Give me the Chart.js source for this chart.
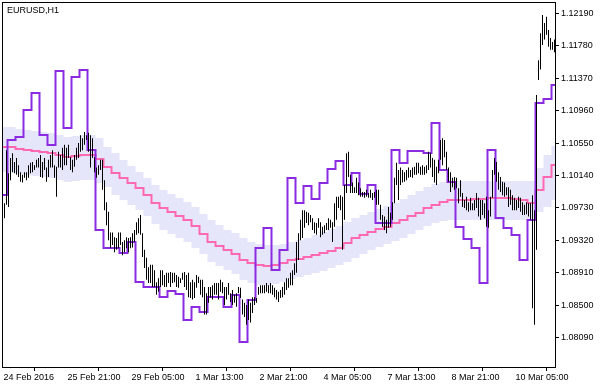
<!DOCTYPE html>
<html>
<head>
<meta charset="utf-8">
<script src="https://cdn.jsdelivr.net/npm/chart.js@4.4.0/dist/chart.umd.min.js"></script>
<style>
  body { margin: 0; background: #fff; }
  canvas { display: block; }
</style>
</head>
<body>
<canvas id="chart" width="607" height="387"></canvas>
<script>
const chartTitle = "EURUSD,H1";

// bottom labels and the H1 bar they sit on
const dateLabels = ["24 Feb 2016", "25 Feb 21:00", "29 Feb 05:00", "1 Mar 13:00", "2 Mar 21:00", "4 Mar 05:00", "7 Mar 13:00", "8 Mar 21:00", "10 Mar 05:00"];
const labelBars = [0, 32, 64, 96, 128, 160, 192, 224, 256];

// price scale on the right
const priceTicks = [1.08090, 1.08500, 1.08910, 1.09320, 1.09730, 1.10140, 1.10550, 1.10960, 1.11370, 1.11780, 1.12190];
const priceMin = 1.077167;
const priceMax = 1.123229;

// H1 bars (high / low), bar 1 .. 276
const highs = [
  1.0979, 1.1046, 1.1017, 1.1036, 1.1042, 1.1031, 1.1036, 1.1027, 1.1018, 1.1015, 1.1018, 1.1018,
  1.1027, 1.1030, 1.1031, 1.1027, 1.1034, 1.1036, 1.1040, 1.1031, 1.1036, 1.1024, 1.1034, 1.1040,
  1.1046, 1.1027, 1.1025, 1.1044, 1.1040, 1.1049, 1.1053, 1.1049, 1.1053, 1.1037, 1.1034, 1.1040,
  1.1049, 1.1055, 1.1065, 1.1061, 1.1069, 1.1065, 1.1068, 1.1065, 1.1061, 1.1037, 1.1024, 1.1027,
  1.1034, 1.1034, 1.1008, 1.0980, 1.0968, 1.0942, 1.0942, 1.0936, 1.0935, 1.0942, 1.0942, 1.0930,
  1.0932, 1.0936, 1.0935, 1.0936, 1.0941, 1.0945, 1.0955, 1.0960, 1.0964, 1.0941, 1.0920, 1.0910,
  1.0898, 1.0901, 1.0901, 1.0894, 1.0879, 1.0884, 1.0894, 1.0894, 1.0888, 1.0891, 1.0891, 1.0892,
  1.0891, 1.0891, 1.0888, 1.0886, 1.0884, 1.0891, 1.0892, 1.0888, 1.0891, 1.0879, 1.0882, 1.0879,
  1.0888, 1.0886, 1.0882, 1.0882, 1.0873, 1.0865, 1.0873, 1.0873, 1.0875, 1.0878, 1.0878, 1.0878,
  1.0882, 1.0879, 1.0873, 1.0873, 1.0878, 1.0865, 1.0869, 1.0863, 1.0865, 1.0873, 1.0872, 1.0857,
  1.0853, 1.0850, 1.0857, 1.0853, 1.0860, 1.0860, 1.0859, 1.0873, 1.0875, 1.0875, 1.0875, 1.0878,
  1.0875, 1.0878, 1.0875, 1.0872, 1.0869, 1.0867, 1.0869, 1.0873, 1.0879, 1.0884, 1.0884, 1.0891,
  1.0894, 1.0903, 1.0930, 1.0941, 1.0958, 1.0970, 1.0970, 1.0968, 1.0967, 1.0964, 1.0960, 1.0955,
  1.0954, 1.0960, 1.0955, 1.0949, 1.0951, 1.0954, 1.0960, 1.0958, 1.0955, 1.0979, 1.0987, 1.0987,
  1.0989, 1.0987, 1.1002, 1.1042, 1.1044, 1.1015, 1.1005, 1.0999, 1.1011, 1.1005, 1.0998, 1.0993,
  1.0993, 1.0996, 1.0992, 1.0996, 1.0992, 1.0993, 1.0996, 1.0996, 1.0977, 1.0964, 1.0962, 1.0958,
  1.0974, 1.0967, 1.0980, 1.1011, 1.1030, 1.1021, 1.1024, 1.1021, 1.1018, 1.1021, 1.1024, 1.1021,
  1.1024, 1.1025, 1.1030, 1.1030, 1.1025, 1.1027, 1.1025, 1.1027, 1.1044, 1.1042, 1.1036, 1.1034,
  1.1025, 1.1034, 1.1059, 1.1061, 1.1059, 1.1044, 1.1024, 1.1018, 1.1011, 1.1012, 1.1011, 1.0998,
  1.1008, 1.0992, 1.0983, 1.0987, 1.0980, 1.0986, 1.0979, 1.0983, 1.0992, 1.0986, 1.0983, 1.0983,
  1.0979, 1.0987, 1.0970, 1.0987, 1.1021, 1.1036, 1.1031, 1.1018, 1.1012, 1.1006, 1.1005, 1.0999,
  1.0999, 1.0996, 1.0989, 1.0986, 1.0983, 1.0987, 1.0986, 1.0980, 1.0977, 1.0980, 1.0979, 1.0979,
  1.0989, 1.0970, 1.1116, 1.1160, 1.1194, 1.1217, 1.1207, 1.1215, 1.1198, 1.1188, 1.1183, 1.1186
];
const lows = [
  1.0960, 1.0977, 1.0974, 1.1008, 1.1018, 1.1017, 1.1015, 1.1012, 1.1006, 1.1005, 1.1011, 1.1008,
  1.1011, 1.1017, 1.1018, 1.1021, 1.1024, 1.1024, 1.1012, 1.1011, 1.1021, 1.1006, 1.1012, 1.1024,
  1.1024, 1.1011, 1.0987, 1.1024, 1.1024, 1.1021, 1.1027, 1.1027, 1.1036, 1.1021, 1.1018, 1.1025,
  1.1034, 1.1036, 1.1044, 1.1046, 1.1053, 1.1059, 1.1044, 1.1024, 1.1036, 1.1018, 1.1011, 1.1015,
  1.1021, 1.0996, 1.0970, 1.0951, 1.0932, 1.0922, 1.0926, 1.0917, 1.0920, 1.0922, 1.0926, 1.0913,
  1.0917, 1.0922, 1.0917, 1.0922, 1.0923, 1.0930, 1.0939, 1.0941, 1.0939, 1.0911, 1.0897, 1.0882,
  1.0878, 1.0878, 1.0873, 1.0873, 1.0863, 1.0867, 1.0873, 1.0875, 1.0873, 1.0873, 1.0878, 1.0873,
  1.0878, 1.0879, 1.0873, 1.0872, 1.0878, 1.0882, 1.0873, 1.0869, 1.0860, 1.0859, 1.0857, 1.0859,
  1.0872, 1.0878, 1.0863, 1.0860, 1.0838, 1.0838, 1.0853, 1.0860, 1.0857, 1.0863, 1.0863, 1.0857,
  1.0867, 1.0865, 1.0850, 1.0857, 1.0863, 1.0854, 1.0850, 1.0853, 1.0848, 1.0865, 1.0859, 1.0838,
  1.0835, 1.0825, 1.0831, 1.0828, 1.0840, 1.0850, 1.0853, 1.0863, 1.0865, 1.0865, 1.0865, 1.0867,
  1.0865, 1.0865, 1.0863, 1.0860, 1.0857, 1.0854, 1.0859, 1.0860, 1.0863, 1.0869, 1.0872, 1.0875,
  1.0875, 1.0888, 1.0891, 1.0907, 1.0932, 1.0935, 1.0948, 1.0954, 1.0951, 1.0955, 1.0945, 1.0941,
  1.0939, 1.0948, 1.0936, 1.0939, 1.0941, 1.0945, 1.0945, 1.0948, 1.0930, 1.0949, 1.0958, 1.0973,
  1.0970, 1.0920, 1.0958, 1.0992, 1.1012, 1.0992, 1.0992, 1.0992, 1.0992, 1.0989, 1.0987, 1.0987,
  1.0986, 1.0987, 1.0986, 1.0986, 1.0983, 1.0986, 1.0977, 1.0977, 1.0958, 1.0949, 1.0945, 1.0941,
  1.0948, 1.0949, 1.0958, 1.0979, 1.1002, 1.0983, 1.1002, 1.1005, 1.1006, 1.1008, 1.1011, 1.1012,
  1.1011, 1.1015, 1.1015, 1.1017, 1.1015, 1.1015, 1.1015, 1.1017, 1.1021, 1.1024, 1.1012, 1.1005,
  1.1002, 1.1017, 1.1034, 1.1027, 1.1037, 1.1021, 1.1006, 1.0993, 1.0999, 1.0996, 1.0998, 1.0979,
  1.0987, 1.0974, 1.0973, 1.0970, 1.0968, 1.0970, 1.0970, 1.0970, 1.0973, 1.0962, 1.0958, 1.0964,
  1.0960, 1.0949, 1.0948, 1.0962, 1.0986, 1.1015, 1.1006, 1.0996, 1.0993, 1.0989, 1.0987, 1.0989,
  1.0974, 1.0977, 1.0970, 1.0970, 1.0970, 1.0973, 1.0968, 1.0964, 1.0964, 1.0965, 1.0962, 1.0958,
  1.0846, 1.0825, 1.0920, 1.1135, 1.1148, 1.1179, 1.1186, 1.1192, 1.1177, 1.1173, 1.1173, 1.1170
];

// H4 indicator values, one per H4 candle (4 H1 bars each)
const maH4 = [
  1.10501, 1.10501, 1.10475, 1.10463, 1.10450, 1.10437, 1.10425, 1.10399, 1.10374, 1.10387,
  1.10399, 1.10399, 1.10349, 1.10248, 1.10172, 1.10108, 1.10045, 1.09982, 1.09893, 1.09792,
  1.09729, 1.09678, 1.09628, 1.09577, 1.09501, 1.09400, 1.09299, 1.09248, 1.09197, 1.09147,
  1.09071, 1.09033, 1.09007, 1.08995, 1.09007, 1.09033, 1.09071, 1.09083, 1.09109, 1.09134,
  1.09159, 1.09185, 1.09223, 1.09286, 1.09349, 1.09387, 1.09425, 1.09463, 1.09488, 1.09539,
  1.09577, 1.09628, 1.09665, 1.09729, 1.09767, 1.09805, 1.09830, 1.09830, 1.09830, 1.09843,
  1.09843, 1.09855, 1.09855, 1.09855, 1.09843, 1.09830, 1.09792, 1.09957, 1.10121, 1.10273
];
const bandUpper = [
  1.10754, 1.10754, 1.10728, 1.10716, 1.10703, 1.10690, 1.10678, 1.10653, 1.10627, 1.10640,
  1.10653, 1.10653, 1.10615, 1.10501, 1.10425, 1.10336, 1.10260, 1.10184, 1.10108, 1.10020,
  1.09957, 1.09906, 1.09855, 1.09805, 1.09741, 1.09653, 1.09577, 1.09514, 1.09450, 1.09412,
  1.09349, 1.09299, 1.09273, 1.09261, 1.09261, 1.09273, 1.09299, 1.09324, 1.09349, 1.09387,
  1.09425, 1.09463, 1.09501, 1.09552, 1.09602, 1.09640, 1.09678, 1.09716, 1.09754, 1.09792,
  1.09843, 1.09893, 1.09944, 1.09995, 1.10032, 1.10058, 1.10070, 1.10070, 1.10070, 1.10070,
  1.10070, 1.10070, 1.10070, 1.10070, 1.10070, 1.10070, 1.10070, 1.10235, 1.10399, 1.10513
];
const bandLower = [
  1.10184, 1.10184, 1.10159, 1.10146, 1.10134, 1.10121, 1.10108, 1.10083, 1.10058, 1.10070,
  1.10083, 1.10083, 1.10045, 1.09995, 1.09893, 1.09830, 1.09767, 1.09704, 1.09628, 1.09526,
  1.09450, 1.09400, 1.09349, 1.09299, 1.09223, 1.09147, 1.09046, 1.08995, 1.08944, 1.08894,
  1.08818, 1.08780, 1.08754, 1.08742, 1.08767, 1.08792, 1.08830, 1.08856, 1.08881, 1.08906,
  1.08932, 1.08970, 1.09007, 1.09046, 1.09096, 1.09147, 1.09197, 1.09235, 1.09273, 1.09311,
  1.09349, 1.09400, 1.09450, 1.09501, 1.09539, 1.09564, 1.09577, 1.09577, 1.09577, 1.09577,
  1.09577, 1.09577, 1.09577, 1.09577, 1.09577, 1.09577, 1.09577, 1.09678, 1.09741, 1.09830
];
const levelH4 = [
  1.09893, 1.10589, 1.10627, 1.10969, 1.11184, 1.10653, 1.10526, 1.11462, 1.10741, 1.11386,
  1.11475, 1.10463, 1.09450, 1.09223, 1.09223, 1.09159, 1.09299, 1.08792, 1.08729, 1.08729,
  1.08603, 1.08679, 1.08641, 1.08312, 1.08476, 1.08413, 1.08603, 1.08603, 1.08476, 1.08628,
  1.08033, 1.08565, 1.09223, 1.09476, 1.08944, 1.09197, 1.10108, 1.09792, 1.10007, 1.09843,
  1.10045, 1.10222, 1.10324, 1.10020, 1.10172, 1.09906, 1.10020, 1.09539, 1.09539, 1.10463,
  1.10298, 1.10450, 1.10450, 1.10425, 1.10804, 1.10210, 1.10058, 1.09488, 1.09337, 1.09223,
  1.08780, 1.10463, 1.09602, 1.09476, 1.09387, 1.09071, 1.09577, 1.11057, 1.11108, 1.11285
];

const H4_BARS = 4;
const H4_FIRST = -1.5; // first H4 candle opens between H1 bars

// one point per H4 candle, held flat until the next one
function stepPoints(values){
  const pts = values.map((v, k) => ({x: H4_FIRST + k * H4_BARS, y: v}));
  pts.push({x: H4_FIRST + values.length * H4_BARS, y: values[values.length - 1]});
  return pts;
}

const framePlugin = {
  id: 'frame',
  afterDraw : function(chart){
    const ctx = chart.ctx;
    const a = chart.chartArea;
    ctx.save();
    ctx.strokeStyle = '#000';
    ctx.lineWidth = 1;
    ctx.strokeRect(a.left - 0.5, a.top - 0.5, a.right - a.left + 1, a.bottom - a.top + 1);
    ctx.fillStyle = '#000';
    ctx.font = '9px "Liberation Sans"';
    ctx.textBaseline = 'alphabetic';
    ctx.fillText(chartTitle, a.left + 4, a.top + 10);
    ctx.restore();
  }
};

const font = {family: '"Liberation Sans", Arial, sans-serif', size: 9};

new Chart(document.getElementById('chart'), {
  type: 'bar',
  data: {
    datasets: [
      {type: 'line', data: stepPoints(bandUpper), stepped: true, borderWidth: 0, borderColor: 'rgba(0,0,0,0)',
       pointRadius: 0, fill: '+1', backgroundColor: '#e6e6fa', order: 5},
      {type: 'line', data: stepPoints(bandLower), stepped: true, borderWidth: 0, borderColor: 'rgba(0,0,0,0)',
       pointRadius: 0, fill: false, order: 6},
      {type: 'line', data: stepPoints(maH4), stepped: true, borderColor: '#ff69b4', borderWidth: 2,
       pointRadius: 0, fill: false, order: 3},
      {type: 'line', data: stepPoints(levelH4), stepped: true, borderColor: '#8a2be2', borderWidth: 2,
       pointRadius: 0, fill: false, order: 2},
      {type: 'bar', data: highs.map((h, i) => ({x: i + 1, y: [lows[i], h]})), backgroundColor: '#000',
       barThickness: 1, inflateAmount: 0, borderWidth: 0, order: 1}
    ]
  },
  options: {
    responsive: false,
    animation: false,
    devicePixelRatio: 1,
    layout: {padding: {left: 3, top: 3, right: 0, bottom: 0}},
    plugins: {legend: {display: false}, tooltip: {enabled: false}},
    scales: {
      x: {
        type: 'linear',
        min: 0.25,
        max: 276.25,
        offset: false,
        border: {display: false},
        grid: {drawOnChartArea: false, drawTicks: true, tickLength: 4, color: '#000'},
        ticks: {font: font, color: '#000', align: 'start', labelOffset: 1, padding: 1, maxRotation: 0, autoSkip: false,
                callback: (v) => dateLabels[labelBars.indexOf(v)]},
        afterBuildTicks: (scale) => { scale.ticks = labelBars.map(b => ({value: b})); },
        afterFit: (scale) => { scale.height = 20; scale.paddingLeft = 0; scale.paddingRight = 0; }
      },
      y: {
        type: 'linear',
        position: 'right',
        min: priceMin,
        max: priceMax,
        border: {display: false},
        grid: {drawOnChartArea: false, drawTicks: true, tickLength: 4, color: '#000'},
        ticks: {font: font, color: '#000', padding: 2, callback: (v) => v.toFixed(5)},
        afterBuildTicks: (scale) => { scale.ticks = priceTicks.map(v => ({value: v})); },
        afterFit: (scale) => { scale.width = 52; scale.paddingTop = 0; scale.paddingBottom = 0; }
      }
    }
  },
  plugins: [framePlugin]
});
</script>
</body>
</html>
